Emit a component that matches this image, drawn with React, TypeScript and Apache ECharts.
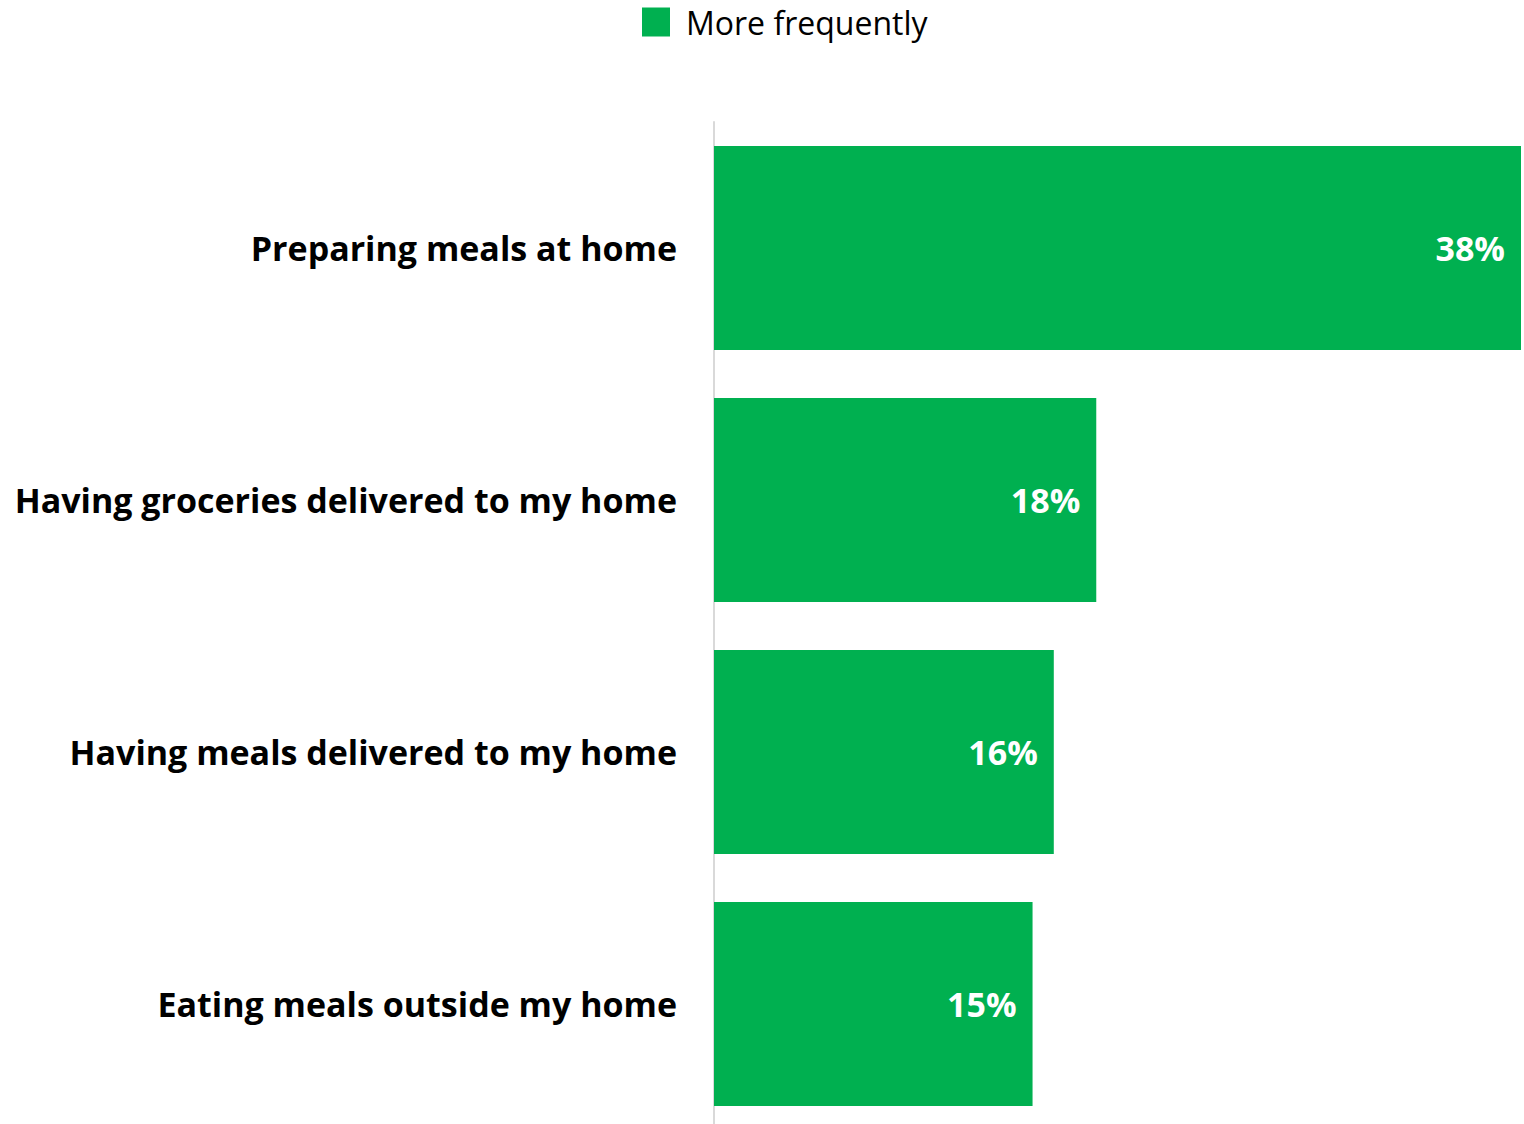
import React, { useEffect, useRef } from "react";
import * as echarts from "echarts";

const categories = [
  "Preparing meals at home",
  "Having groceries delivered to my home",
  "Having meals delivered to my home",
  "Eating meals outside my home",
];
const seriesName = "More frequently";
const values = [38, 18, 16, 15];

export default function App() {
  const ref = useRef<HTMLDivElement>(null);
  useEffect(() => {
    if (!ref.current) return;
    const chart = echarts.init(ref.current, null, { renderer: "svg" });
    chart.setOption({
      animation: false,
      legend: {
        top: 6,
        left: 642,
        padding: 0,
        itemWidth: 28,
        itemHeight: 29,
        icon: "rect",
        textStyle: {
          fontFamily: "Open Sans",
          fontSize: 32,
          color: "#000",
          padding: [0, 0, 6, 11],
        },
        data: [seriesName],
      },
      grid: { left: 714, right: 3, top: 122, bottom: 0, containLabel: false },
      xAxis: {
        type: "value",
        min: 0,
        max: 38,
        show: false,
      },
      yAxis: {
        type: "category",
        inverse: true,
        data: categories,
        axisLine: { show: true, lineStyle: { color: "#d9d9d9", width: 2 } },
        axisTick: { show: false },
        axisLabel: {
          margin: 37,
          fontFamily: "Open Sans",
          fontWeight: "bold",
          fontSize: 34,
          color: "#000",
        },
      },
      series: [
        {
          name: seriesName,
          type: "bar",
          data: values,
          barCategoryGap: "19%",
          itemStyle: { color: "#00B050" },
          label: {
            show: true,
            position: "insideRight",
            distance: 16,
            formatter: "{c}%",
            color: "#fff",
            fontFamily: "Open Sans",
            fontWeight: "bold",
            fontSize: 34,
          },
        },
      ],
    });
    return () => chart.dispose();
  }, []);
  return (
    <div
      ref={ref}
      style={{ position: "fixed", left: 0, top: 0, width: 1524, height: 1130, background: "#fff" }}
    />
  );
}
